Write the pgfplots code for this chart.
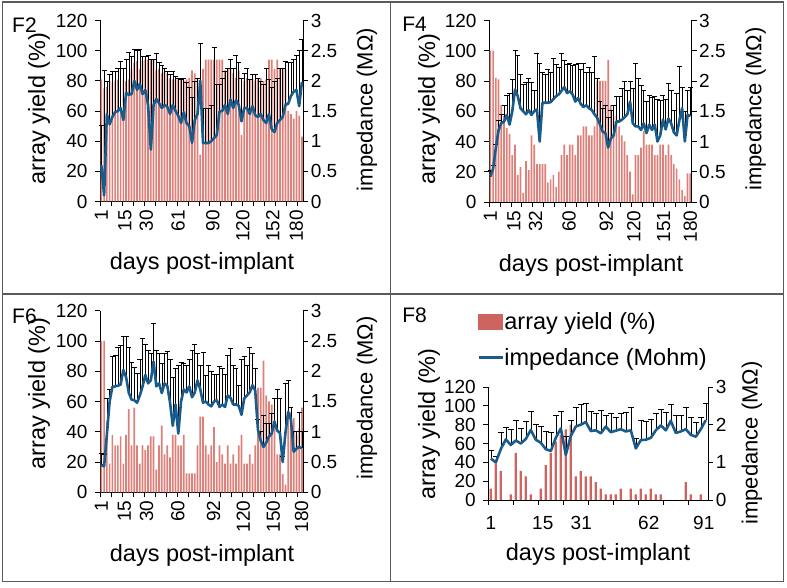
\documentclass[border=0pt]{standalone}
\usepackage{fontspec}
\setmainfont{Liberation Sans}
\usepackage{pgfplots}
\usepackage{pgfplotstable}
\pgfplotsset{compat=1.18}
\definecolor{barred}{RGB}{222,128,122}
\definecolor{barred8}{RGB}{205,100,96}
\definecolor{impblue}{RGB}{25,92,140}
\definecolor{framegray}{RGB}{90,90,90}

\pgfplotstableread{
i y imp cap
1 81 0.60 1.27
2 75 0.10 2.18
3 76 1.45 2.00
4 80 1.28 2.10
5 79 1.40 2.15
6 80 1.48 2.15
7 81 1.50 2.20
8 60 1.55 2.32
9 81 1.35 2.20
10 80 1.80 2.35
11 81 1.77 2.48
12 88 1.78 2.40
13 92 2.00 2.53
14 93 1.85 2.50
15 88 1.95 2.53
16 93 1.78 2.40
17 94 1.85 2.40
18 94 1.60 2.42
19 94 0.86 2.35
20 94 1.60 2.35
21 87 1.70 2.45
22 88 1.63 2.30
23 85 1.55 2.25
24 86 1.60 2.20
25 85 1.57 2.15
26 82 1.45 2.10
27 81 1.60 2.15
28 81 1.50 2.08
29 82 1.42 2.05
30 81 1.30 2.03
31 80 1.48 2.05
32 81 1.30 1.98
33 82 1.25 1.90
34 87 0.97 1.72
35 85 1.35 2.00
36 82 1.45 2.05
37 31 2.00 2.62
38 88 0.97 1.55
39 94 0.97 1.55
40 94 0.97 1.55
41 94 1.00 1.60
42 94 1.05 2.55
43 94 1.10 1.95
44 94 1.49 1.95
45 94 1.50 2.05
46 87 1.60 2.15
47 88 1.45 2.20
48 88 1.69 2.35
49 85 1.55 2.20
50 82 1.68 2.42
51 87 1.60 2.30
52 44 1.33 2.05
53 80 1.55 2.12
54 82 1.55 2.20
55 81 1.45 2.03
56 81 1.58 2.10
57 80 1.43 2.10
58 81 1.40 2.05
59 82 1.45 2.00
60 80 1.35 1.95
61 81 1.30 2.20
62 94 1.45 2.03
63 94 1.20 1.90
64 88 1.15 2.00
65 94 1.30 2.05
66 88 1.35 2.20
67 88 1.40 2.20
68 88 1.60 2.33
69 60 1.62 2.30
70 58 1.75 2.30
71 55 1.82 2.35
72 60 1.85 2.42
73 57 1.58 2.50
74 43 1.98 2.68
}\Ftwo

\pgfplotstableread{
i y imp cap
1 100 0.42 0.53
2 100 0.55 0.60
3 82 0.90 0.95
4 81 1.19 1.35
5 64 1.30 1.45
6 57 1.33 1.60
7 49 1.44 1.77
8 45 1.28 1.80
9 31 1.50 2.02
10 38 1.86 2.51
11 18 1.75 2.43
12 23 1.55 2.11
13 6 1.50 1.95
14 27 1.45 1.98
15 21 1.52 2.05
16 44 1.44 1.98
17 38 1.50 1.85
18 25 1.53 2.46
19 25 1.00 2.30
20 25 1.64 2.15
21 25 1.64 2.11
22 13 1.64 2.19
23 15 1.65 2.15
24 18 1.70 2.38
25 10 1.75 2.28
26 20 1.78 2.22
27 31 1.84 2.46
28 38 1.90 2.35
29 31 1.80 2.28
30 38 1.83 2.30
31 38 1.78 2.26
32 31 1.66 2.28
33 44 1.72 2.30
34 44 1.62 2.20
35 50 1.57 2.30
36 50 1.60 2.15
37 44 1.55 2.22
38 44 1.52 2.15
39 50 1.45 2.41
40 80 1.39 2.05
41 80 1.28 1.66
42 80 1.16 1.55
43 80 1.14 1.60
44 94 0.90 1.40
45 64 1.05 1.52
46 57 1.10 1.60
47 57 1.33 1.75
48 50 1.33 1.75
49 44 1.36 1.88
50 40 1.40 2.00
51 31 1.45 1.85
52 20 1.66 2.00
53 5 1.30 1.88
54 31 1.25 2.30
55 31 1.25 2.05
56 36 1.19 1.93
57 47 1.30 1.85
58 38 1.14 1.66
59 38 1.28 1.77
60 38 1.19 1.73
61 31 1.28 1.75
62 31 1.00 1.70
63 38 1.10 1.68
64 38 1.36 1.77
65 31 1.20 1.70
66 38 1.38 1.97
67 31 1.30 1.85
68 25 1.15 1.52
69 22 1.10 1.80
70 15 1.35 2.24
71 8 1.55 1.90
72 4 1.00 1.50
73 19 1.44 1.85
74 19 1.42 1.90
}\Ffour

\pgfplotstableread{
i y imp cap
1 100 0.45 0.65
2 100 0.43 0.62
3 47 0.95 1.55
4 19 1.50 1.70
5 38 1.74 2.24
6 31 1.75 2.27
7 31 1.76 2.40
8 37 1.78 2.43
9 19 2.02 2.57
10 38 1.90 2.57
11 55 1.64 2.40
12 31 1.53 2.15
13 56 1.52 2.07
14 31 1.48 1.97
15 19 1.60 2.20
16 31 1.75 2.54
17 28 1.94 2.45
18 31 1.80 2.35
19 37 1.85 2.30
20 37 2.16 2.79
21 15 1.75 2.35
22 31 1.80 2.30
23 44 1.64 2.13
24 25 1.80 2.30
25 31 1.76 2.33
26 23 1.48 2.20
27 38 1.10 1.90
28 38 1.45 2.05
29 31 0.97 2.10
30 31 1.50 2.15
31 38 1.70 2.13
32 12.5 1.65 2.10
33 12.5 1.75 2.20
34 12.5 1.57 2.35
35 12.5 1.65 2.45
36 31 1.85 2.30
37 50 1.70 2.10
38 50 1.48 2.32
39 31 1.50 1.94
40 25 1.45 2.10
41 31 1.42 2.00
42 43 1.50 1.95
43 20 1.52 1.95
44 31 1.41 2.08
45 25 1.45 2.05
46 19 1.41 1.95
47 31 1.60 2.27
48 19 1.56 2.38
49 25 1.45 2.10
50 19 1.45 2.05
51 31 1.43 1.76
52 38 1.28 2.20
53 19 1.55 2.25
54 19 1.60 2.10
55 25 1.65 2.40
56 19 1.77 2.30
57 31 1.68 2.05
58 69 1.03 1.20
59 69 0.85 1.00
60 87 0.75 1.28
61 64 0.82 1.14
62 60 0.92 1.14
63 58 0.97 1.30
64 44 1.17 1.55
65 25 1.02 1.70
66 25 0.98 1.55
67 12 0.50 0.59
68 5 0.98 1.80
69 53 1.33 1.85
70 53 1.20 1.40
71 49 0.67 1.00
72 38 0.72 1.00
73 42 0.75 1.32
74 56 0.73 1.00
}\Fsix

\pgfplotstableread{
i y imp cap
1 12 1.10 1.33
2 39 1.00 1.15
3 31 1.35 1.80
4 0 1.61 1.92
5 6 1.46 1.87
6 50 1.58 2.12
7 31 1.50 1.90
8 25 1.62 2.10
9 6 1.86 2.35
10 0 1.60 2.00
11 12 1.52 1.95
12 37 1.35 1.82
13 50 1.30 1.80
14 62 1.65 2.25
15 69 1.90 2.36
16 75 1.20 1.70
17 80 1.70 2.12
18 25 1.95 2.46
19 31 2.00 2.55
20 25 2.07 2.58
21 25 1.83 2.36
22 19 1.85 2.30
23 12 1.77 2.38
24 6 1.95 2.25
25 6 1.80 2.30
26 6 1.84 2.20
27 12 1.88 2.30
28 0 1.82 2.33
29 12 1.85 2.45
30 6 1.37 1.65
31 12 1.59 2.12
32 6 1.60 2.10
33 12 1.65 2.15
34 6 1.85 2.30
35 6 1.98 2.42
36 0 1.85 2.32
37 0 2.10 2.55
38 0 1.78 2.25
39 0 1.82 2.25
40 19 1.88 2.45
41 6 1.73 2.20
42 0 1.68 2.05
43 6 1.88 2.20
44 0 2.12 2.58
}\Feight

\pgfplotsset{
  common/.style={
    scale only axis, anchor=south west, clip=false,
    axis line style={black, line width=0.8pt},
    tick style={black, line width=0.8pt},
    tick align=outside, major tick length=5pt,
    tick label style={font=\fontsize{19}{22}\selectfont},
    /pgf/number format/assume math mode=true,
  },
  leftax/.style={common, axis x line*=bottom, axis y line*=left,
    ymin=0, ymax=120, ytick={0,20,40,60,80,100,120},
    yticklabel style={xshift=-4pt},
    xticklabels={},
    extra x tick style={tick style={draw=none}},
  },
  rightax/.style={common, axis x line=none, axis y line*=right,
    ymin=0, ymax=3, ytick={0,0.5,1,1.5,2,2.5,3}, xtick=\empty,
    yticklabel style={xshift=-1pt},
  },
  rotlab/.style={xticklabel style={rotate=90, anchor=east}},
  errplot/.style={draw=none, mark=none, forget plot,
    error bars/.cd, y dir=plus, y explicit,
    error mark=-,
    error bar style={draw=black, line width=0.6pt},
    error mark options={rotate=90, draw=black, line width=0.6pt, mark size=#1}},
  impline/.style={impblue, line width=2.6pt, mark=none, line join=round, forget plot},
}
\newcommand{\lbl}{\fontsize{23.5}{28}\selectfont}
\newcommand{\rlbl}{\fontsize{22}{26}\selectfont}
\newcommand{\flbl}{\fontsize{21}{25}\selectfont}

\begin{document}
\begin{tikzpicture}
\useasboundingbox (0pt,0pt) rectangle (787pt,588pt);
% frames
\draw[framegray, line width=1.3pt] (2.5pt,6.5pt) rectangle (783.5pt,586pt);
\draw[framegray, line width=1.3pt] (390.5pt,6.5pt) -- (390.5pt,586pt);
\draw[framegray, line width=1.3pt] (2.5pt,294pt) -- (783.5pt,294pt);

% ---------------- F2 ----------------
\begin{axis}[leftax, rotlab, at={(100pt,386.5pt)}, width=203.3pt, height=181pt,
  xmin=0.5, xmax=74.5, xtick={0.5,4.5,...,72.5},
  extra x ticks={1,9.6,17.4,28.9,41.6,52.5,63.4,72},
  extra x tick labels={1,15,30,61,90,120,152,180}]
\addplot[ybar, bar width=1.7pt, fill=barred, draw=none] table[x=i,y=y]{\Ftwo};
\end{axis}
\begin{axis}[rightax, at={(100pt,386.5pt)}, width=203.3pt, height=181pt,
  xmin=0.5, xmax=74.5]
\addplot[errplot=2.5pt] table[x=i, y=imp, y error expr=\thisrow{cap}-\thisrow{imp}]{\Ftwo};
\addplot[impline] table[x=i,y=imp]{\Ftwo};
\end{axis}
\node[font=\flbl] at (24.5pt,563pt) {F2};
\node[rotate=90, font=\lbl] at (39pt,479.5pt) {array yield (\%)};
\node[rotate=90, font=\rlbl] at (367pt,478.5pt) {impedance (MΩ)};
\node[font=\lbl] at (202pt,325pt) {days post-implant};

% ---------------- F4 ----------------
\begin{axis}[leftax, rotlab, at={(489pt,386pt)}, width=202.7pt, height=181.5pt,
  xmin=0.5, xmax=74.5, xtick={0.5,4.5,...,72.5},
  extra x ticks={1,9.6,17.5,29.7,43.3,53.4,64.3,74},
  extra x tick labels={1,15,32,60,92,120,151,180}]
\addplot[ybar, bar width=1.7pt, fill=barred, draw=none] table[x=i,y=y]{\Ffour};
\end{axis}
\begin{axis}[rightax, at={(489pt,386pt)}, width=202.7pt, height=181.5pt,
  xmin=0.5, xmax=74.5]
\addplot[errplot=2.5pt] table[x=i, y=imp, y error expr=\thisrow{cap}-\thisrow{imp}]{\Ffour};
\addplot[impline] table[x=i,y=imp]{\Ffour};
\end{axis}
\node[font=\flbl] at (414.5pt,564pt) {F4};
\node[rotate=90, font=\lbl] at (429pt,479pt) {array yield (\%)};
\node[rotate=90, font=\rlbl] at (755.7pt,479pt) {impedance (MΩ)};
\node[font=\lbl] at (591pt,323pt) {days post-implant};

% ---------------- F6 ----------------
\begin{axis}[leftax, rotlab, at={(100pt,95.7pt)}, width=203.3pt, height=181.6pt,
  xmin=0.5, xmax=74.5, xtick={0.5,4.5,...,72.5},
  extra x ticks={1,9.4,17.5,28.8,41.8,52.7,63.6,73.9},
  extra x tick labels={1,15,30,60,92,120,150,180}]
\addplot[ybar, bar width=1.7pt, fill=barred, draw=none] table[x=i,y=y]{\Fsix};
\end{axis}
\begin{axis}[rightax, at={(100pt,95.7pt)}, width=203.3pt, height=181.6pt,
  xmin=0.5, xmax=74.5]
\addplot[errplot=2.5pt] table[x=i, y=imp, y error expr=\thisrow{cap}-\thisrow{imp}]{\Fsix};
\addplot[impline] table[x=i,y=imp]{\Fsix};
\end{axis}
\node[font=\flbl] at (24.5pt,271.5pt) {F6};
\node[rotate=90, font=\lbl] at (39pt,194.5pt) {array yield (\%)};
\node[rotate=90, font=\rlbl] at (367pt,190pt) {impedance (MΩ)};
\node[font=\lbl] at (202pt,32.3pt) {days post-implant};

% ---------------- F8 ----------------
\begin{axis}[leftax, at={(488.3pt,88pt)}, width=220pt, height=113pt,
  xmin=0.5, xmax=44.5, xtick={0.5,5.5,...,40.5},
  xticklabel style={yshift=-8pt},
  extra x ticks={1,11.4,19.1,32.6,43.6},
  extra x tick labels={1,15,31,62,91}]
\addplot[ybar, bar width=2.2pt, fill=barred8, draw=none] table[x=i,y=y]{\Feight};
\end{axis}
\begin{axis}[rightax, at={(488.3pt,88pt)}, width=220pt, height=113pt,
  xmin=0.5, xmax=44.5, ytick={0,1,2,3},
  legend cell align=left,
  legend style={at={(rel axis cs:-0.051,1.67)}, anchor=north west, draw=none, fill=none,
    font=\lbl, inner sep=0pt, row sep=17pt,
    nodes={inner sep=0.5pt}}]
\addlegendimage{legend image code/.code={\fill[barred8] (0pt,-7.5pt) rectangle (24pt,7.5pt);}}
\addlegendentry{array yield (\%)}
\addlegendimage{legend image code/.code={\draw[impblue, line width=2.6pt] (0pt,0pt) -- (24pt,0pt);}}
\addlegendentry{impedance (Mohm)}
\addplot[errplot=3pt] table[x=i, y=imp, y error expr=\thisrow{cap}-\thisrow{imp}]{\Feight};
\addplot[impline] table[x=i,y=imp]{\Feight};
\end{axis}
\node[font=\flbl] at (414.5pt,273pt) {F8};
\node[rotate=90, font=\lbl] at (429pt,164pt) {array yield (\%)};
\node[rotate=90, font=\rlbl] at (752pt,145pt) {impedance (MΩ)};
\node[font=\lbl] at (598pt,34pt) {days post-implant};
\end{tikzpicture}
\end{document}
